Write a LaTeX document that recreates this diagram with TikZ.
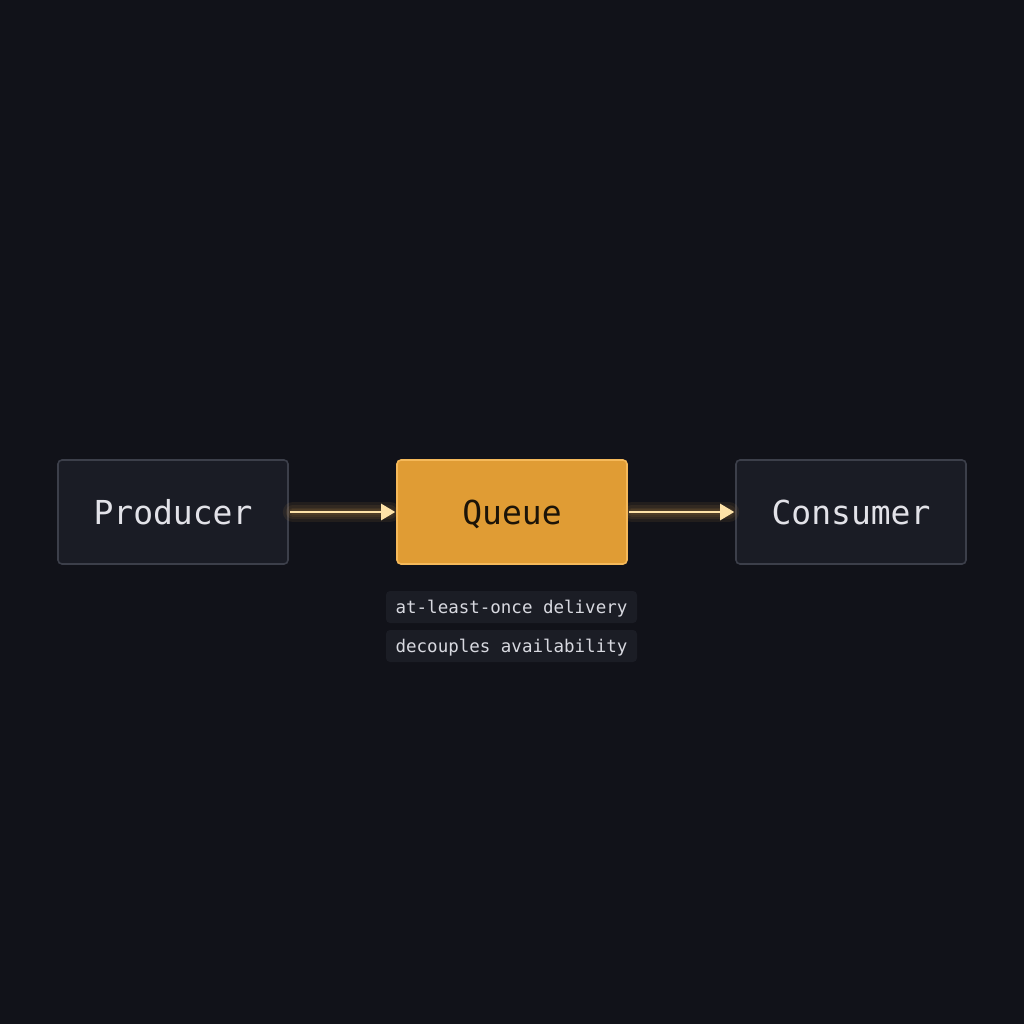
\documentclass[tikz,border=0pt]{standalone}
\usepackage{fontspec}
\setmonofont{DejaVu Sans Mono}
\usetikzlibrary{arrows.meta}
\definecolor{bg}{HTML}{111219}
\definecolor{boxfill}{HTML}{1A1C25}
\definecolor{boxline}{HTML}{3C3F4A}
\definecolor{qfill}{HTML}{E09C34}
\definecolor{qline}{HTML}{F5B95A}
\definecolor{lighttext}{HTML}{E2E2E8}
\definecolor{darktext}{HTML}{1C1408}
\definecolor{arrowc}{HTML}{FDE2A8}
\definecolor{glowc}{HTML}{F0B050}
\definecolor{tagfill}{HTML}{1B1D25}
\definecolor{tagtext}{HTML}{D8D9E0}
\tikzset{
  box/.style={draw=boxline, line width=1.6pt, fill=boxfill, rounded corners=4pt,
    minimum width=230pt, minimum height=104pt, inner sep=0pt,
    text height=24pt, text depth=0pt,
    font=\ttfamily\fontsize{33}{33}\selectfont, text=lighttext},
  qbox/.style={box, draw=qline, fill=qfill, text=darktext},
  tag/.style={fill=tagfill, rounded corners=4pt, minimum width=251pt, minimum height=32pt,
    inner sep=0pt, text height=12.5pt, text depth=0pt,
    font=\ttfamily\fontsize{17.5}{17.5}\selectfont, text=tagtext},
  flow/.style={draw=arrowc, line width=2.6pt, -{Triangle[length=14pt,width=16pt]}},
  glow/.style={draw=glowc, line width=#1, opacity=0.08, line cap=round},
}
\begin{document}
\begin{tikzpicture}[x=1pt,y=-1pt]
\fill[bg] (0,0) rectangle (1024,1024);
\useasboundingbox (0,0) rectangle (1024,1024);
\node[box]  (prod) at (173,512) {Producer};
\node[qbox] (queue) at (512,512) {Queue};
\node[box]  (cons) at (851,512) {Consumer};
\node[tag] (t1) at (511.5,607) {at-least-once delivery};
\node[tag] (t2) at (511.5,646) {decouples availability};
\foreach \w in {20pt,14pt,9pt,6pt}{
  \draw[glow=\w] ([xshift=4pt]prod.east) -- ([xshift=-6pt]queue.west);
  \draw[glow=\w] ([xshift=4pt]queue.east) -- ([xshift=-6pt]cons.west);
}
\draw[flow] ([xshift=1pt]prod.east) -- ([xshift=-1pt]queue.west);
\draw[flow] ([xshift=1pt]queue.east) -- ([xshift=-1pt]cons.west);
\end{tikzpicture}
\end{document}
